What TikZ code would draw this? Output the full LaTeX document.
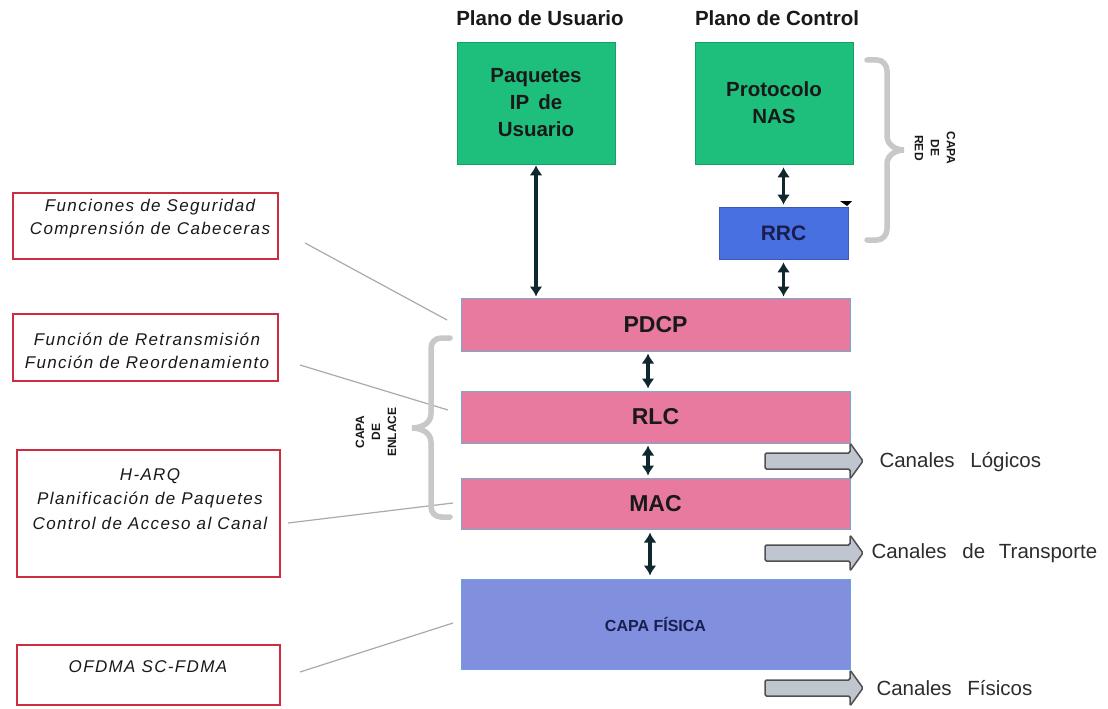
\documentclass[tikz,border=0pt]{standalone}
\usepackage{fontspec}
\setmainfont{Liberation Sans}
\newfontfamily\spacedfont[LetterSpace=8]{Liberation Sans}
\usetikzlibrary{arrows.meta}

\definecolor{userGreen}{RGB}{30,190,125}
\definecolor{userGreenEdge}{RGB}{20,160,105}
\definecolor{layerPink}{RGB}{232,122,160}
\definecolor{layerEdge}{RGB}{110,175,205}
\definecolor{rrcBlue}{RGB}{72,112,225}
\definecolor{phyBlue}{RGB}{128,143,222}
\definecolor{navyText}{RGB}{25,30,80}
\definecolor{inkText}{RGB}{25,25,25}
\definecolor{boxRed}{RGB}{205,45,65}
\definecolor{leaderGray}{RGB}{170,170,170}
\definecolor{braceGray}{RGB}{200,200,200}
\definecolor{arrowInk}{RGB}{15,40,45}
\definecolor{chanFill}{RGB}{192,198,208}
\definecolor{chanEdge}{RGB}{80,80,80}
\definecolor{chanText}{RGB}{45,45,45}

\tikzset{
  title/.style={font=\fontsize{20.5}{24}\selectfont\bfseries, text=inkText},
  planebox/.style={draw=userGreenEdge, line width=0.6pt, fill=userGreen, inner sep=0pt,
    minimum width=158pt, minimum height=122pt, align=center, text=inkText,
    font=\fontsize{20.5}{27}\selectfont\bfseries},
  layerbox/.style={draw=layerEdge, line width=1pt, fill=layerPink, inner sep=0pt,
    minimum width=389pt, text=inkText, font=\fontsize{23}{26}\selectfont\bfseries},
  funcbox/.style={draw=boxRed, line width=1.4pt, fill=white, inner sep=0pt, minimum width=265pt},
  functext/.style={align=center, text=inkText, font=\fontsize{17}{23}\selectfont\spacedfont\itshape},
  dbl/.style={{Latex[length=10pt,width=13pt]}-{Latex[length=10pt,width=13pt]}, line width=3.6pt, draw=arrowInk},
  leader/.style={draw=leaderGray, line width=1.2pt},
  brace/.style={draw=braceGray, line width=5.5pt, line cap=round},
  bracetext/.style={align=center, text=inkText, font=\fontsize{12}{16}\selectfont\bfseries},
  chantext/.style={anchor=west, text=chanText, font=\fontsize{20.5}{24}\selectfont},
  chan/.pic={
    \draw[fill=chanFill, draw=chanEdge, line width=1.5pt, rounded corners=1.5pt]
      (0,-8) -- (85,-8) -- (85,-18) -- (98,0) -- (85,18) -- (85,8) -- (0,8) -- cycle;
  }
}

\begin{document}
\begin{tikzpicture}[x=1pt, y=-1pt]
  \path[use as bounding box, fill=white] (0,0) rectangle (1108,709);

  % column headings
  \node[title] (tU) at (540,18) {Plano de Usuario};
  \node[title] (tC) at (777,18) {Plano de Control};

  % upper planes
  \node[planebox] (pq) at (536,103) {Paquetes\\IP\, de\\Usuario};
  \node[planebox] (nas) at (774,103) {Protocolo\\NAS};
  \node[draw=rrcBlue!80!black, line width=0.6pt, fill=rrcBlue, minimum width=129pt, minimum height=52pt,
        inner sep=0pt, text=navyText, font=\fontsize{21}{24}\selectfont\bfseries] (rrc) at (783.5,233) {RRC};
  \fill[black] (840,201) -- (852,201) -- (847,206) -- cycle;

  % protocol stack
  \node[layerbox, minimum height=53pt] (pdcp) at (655.5,324.5) {PDCP};
  \node[layerbox, minimum height=52pt] (rlc) at (655.5,417) {RLC};
  \node[layerbox, minimum height=51pt] (mac) at (655.5,503.5) {MAC};
  \node[draw=phyBlue!85!cyan, line width=1pt, fill=phyBlue, minimum width=389pt, minimum height=90pt,
        inner sep=0pt, text=navyText, font=\fontsize{16}{19}\selectfont\bfseries] (phy) at (655.5,624) {CAPA FÍSICA};

  % vertical interfaces
  \draw[dbl, shorten <=1pt, shorten >=1pt] (pq.south) -- (pq.south |- pdcp.north);
  \draw[dbl, shorten <=3pt, shorten >=2pt] (rrc.north |- nas.south) -- (rrc.north);
  \draw[dbl, shorten <=3pt, shorten >=1pt] (rrc.south) -- (rrc.south |- pdcp.north);
  \draw[dbl, shorten <=2pt, shorten >=2pt] ([xshift=-7.5pt]pdcp.south) -- ([xshift=-7.5pt]pdcp.south |- rlc.north);
  \draw[dbl, shorten <=2pt, shorten >=2pt] ([xshift=-7.5pt]rlc.south) -- ([xshift=-7.5pt]rlc.south |- mac.north);
  \draw[dbl, shorten <=3pt, shorten >=3pt] ([xshift=-5.5pt]mac.south) -- ([xshift=-5.5pt]mac.south |- phy.north);

  % function descriptions
  \node[funcbox, minimum height=66pt] (b1) at (145.5,226) {};
  \node[functext] (b1t) at (150,219) {Funciones de Seguridad\\Comprensión de Cabeceras};
  \node[funcbox, minimum height=67pt] (b2) at (145.5,347.5) {};
  \node[functext] (b2t) at (147,350.5) {Función de Retransmisión\\Función de Reordenamiento};
  \node[funcbox, minimum width=263pt, minimum height=127pt] (b3) at (148.5,513.5) {};
  \node[functext, font=\fontsize{17}{24.5}\selectfont\spacedfont\itshape] (b3t) at (150,499) {H-ARQ\\Planificación de Paquetes\\Control de Acceso al Canal};
  \node[funcbox, minimum width=263pt, minimum height=60pt] (b4) at (148.5,675) {};
  \node[functext] (b4t) at (148,667) {OFDMA SC-FDMA};

  % leader lines
  \coordinate (l1a) at (305,243);  \coordinate (l1b) at (447,320);
  \coordinate (l2a) at (300,365);  \coordinate (l2b) at (448,410);
  \coordinate (l3a) at (288,523);  \coordinate (l3b) at (453,503);
  \coordinate (l4a) at (300,672);  \coordinate (l4b) at (453,623);
  \draw[leader] (l1a) -- (l1b);
  \draw[leader] (l2a) -- (l2b);
  \draw[leader] (l3a) -- (l3b);
  \draw[leader] (l4a) -- (l4b);

  % network-layer brace
  \draw[brace] (867,60) -- (877,60) to[out=0,in=90] (887,71) -- (887,136)
    to[out=-90,in=180] (904,150) to[out=180,in=90] (887,164) -- (887,229)
    to[out=-90,in=0] (877,240) -- (867,240);
  \node[bracetext, rotate=-90] (redL) at (935,148) {CAPA\\DE\\RED};

  % link-layer brace
  \draw[brace] (450,338) -- (441,338) to[out=180,in=90] (431,348) -- (431,414)
    to[out=-90,in=0] (412,428) to[out=0,in=90] (431,442) -- (431,507)
    to[out=-90,in=180] (441,517) -- (450,517);
  \node[bracetext, rotate=90] (enlL) at (376,432) {CAPA\\DE\\ENLACE};

  % channel arrows
  \pic at (765,461) {chan};
  \pic at (765,553) {chan};
  \pic at (765,688) {chan};
  \node[chantext] (cL) at (876,462) {Canales\hspace{10pt} Lógicos};
  \node[chantext] (cT) at (868,553) {Canales\hspace{10pt} de\hspace{8pt} Transporte};
  \node[chantext] (cF) at (873,688) {Canales\hspace{10pt} Físicos};
\end{tikzpicture}
\end{document}
